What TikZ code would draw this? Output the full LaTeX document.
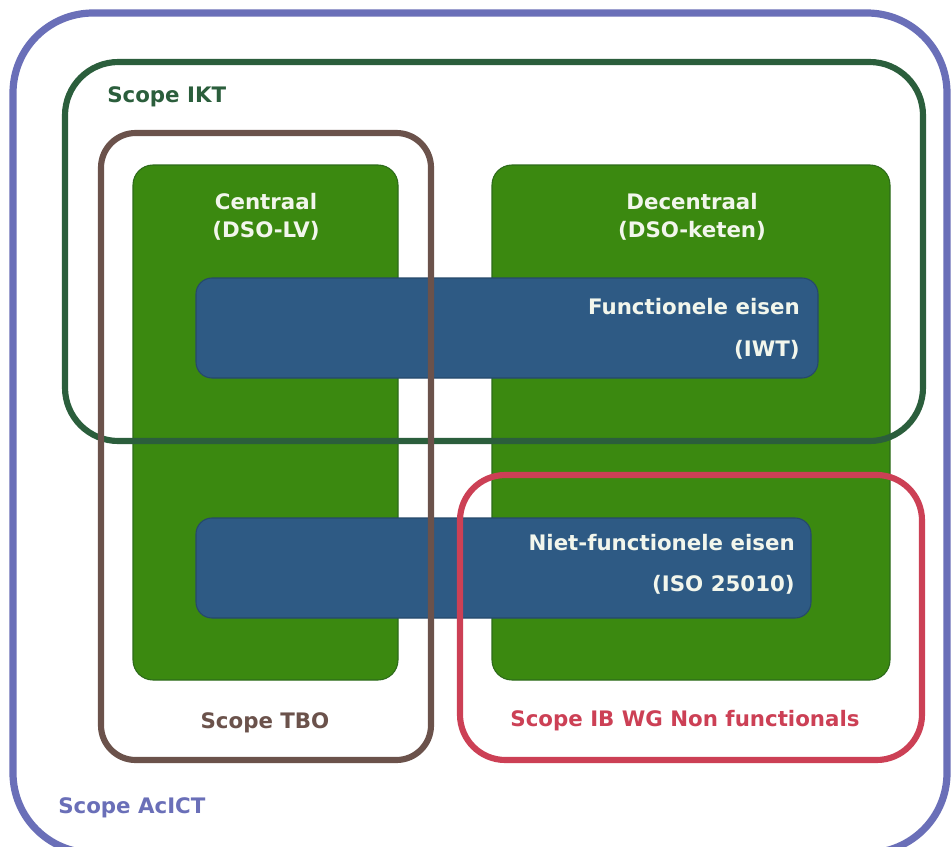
\documentclass[tikz,border=0pt]{standalone}
\usepackage{fontspec}
\setmainfont{DejaVu Sans}
\usepackage{tikz}

\definecolor{acict}{RGB}{106,111,184}
\definecolor{ikt}{RGB}{43,94,60}
\definecolor{tbo}{RGB}{107,82,75}
\definecolor{ibwg}{RGB}{204,64,85}
\definecolor{kolom}{RGB}{59,137,16}
\definecolor{kolomrand}{RGB}{45,107,26}
\definecolor{eisen}{RGB}{46,90,132}
\definecolor{eisenrand}{RGB}{38,73,107}
\definecolor{licht}{RGB}{242,246,236}

\tikzset{
  kolombox/.style={fill=kolom, draw=kolomrand, line width=0.8pt, rounded corners=15},
  eisenbox/.style={fill=eisen, draw=eisenrand, line width=0.8pt, rounded corners=12},
  scoperand/.style={line width=4.6pt},
  txt/.style={inner sep=0pt, font=\fontsize{16}{21}\selectfont\bfseries},
}

\begin{document}
\begin{tikzpicture}[x=0.75pt,y=0.75pt,yscale=-1,xscale=1]
\useasboundingbox (0,0) rectangle (951,847);
\clip (0,0) rectangle (951,847);
\fill[white] (0,0) rectangle (951,847);
% kolommen
\draw[kolombox] (133,165) rectangle (398,680);
\draw[kolombox] (492,165) rectangle (890,680);
\node[txt, text=licht, align=center] (centraal) at (266,217) {Centraal\\(DSO-LV)};
\node[txt, text=licht, align=center] (decentraal) at (692,217) {Decentraal\\(DSO-keten)};
% eisen
\draw[eisenbox] (196,278) rectangle (818,378);
\draw[eisenbox] (196,518) rectangle (811,618);
\node[txt, text=licht, anchor=east] (func) at (800,307) {Functionele eisen};
\node[txt, text=licht, anchor=east] (iwt) at (800,350) {(IWT)};
\node[txt, text=licht, anchor=east] (nfunc) at (795,543) {Niet-functionele eisen};
\node[txt, text=licht, anchor=east] (iso) at (795,585) {(ISO 25010)};
% scopes
\draw[scoperand, acict, line width=5.4pt, rounded corners=60] (13,13) rectangle (947,853);
\draw[scoperand, ikt, rounded corners=40] (65,62) rectangle (923,441);
\draw[scoperand, tbo, rounded corners=26] (101,133) rectangle (431,760);
\draw[scoperand, ibwg, rounded corners=34] (460,475) rectangle (922,760);
\node[txt, text=ikt, anchor=west] (sikt) at (107,97) {Scope IKT};
\node[txt, text=tbo] (stbo) at (265,723) {Scope TBO};
\node[txt, text=ibwg] (sibwg) at (685,721) {Scope IB WG Non functionals};
\node[txt, text=acict, anchor=west] (sacict) at (58,808) {Scope AcICT};
\end{tikzpicture}
\end{document}
